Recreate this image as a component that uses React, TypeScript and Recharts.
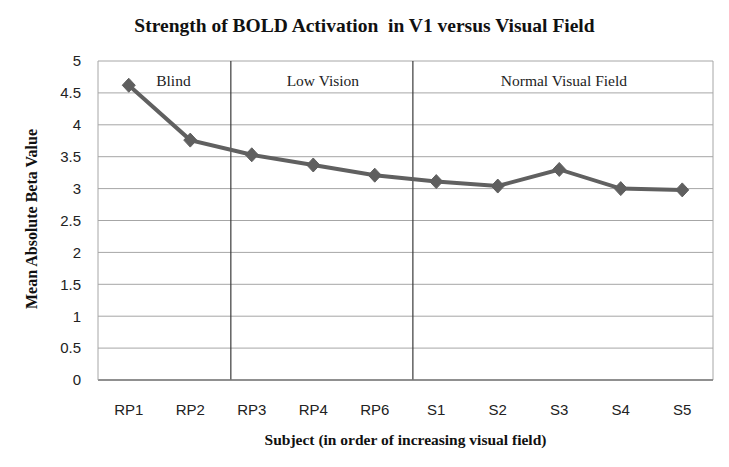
import React from 'react';
import {
  LineChart,
  Line,
  XAxis,
  YAxis,
  CartesianGrid,
  ReferenceLine,
  ReferenceArea,
} from 'recharts';

const title = 'Strength of BOLD Activation  in V1 versus Visual Field';
const yTitle = 'Mean Absolute Beta Value';
const xTitle = 'Subject (in order of increasing visual field)';

const categories = ['RP1', 'RP2', 'RP3', 'RP4', 'RP6', 'S1', 'S2', 'S3', 'S4', 'S5'];
const betaValues = [4.62, 3.76, 3.53, 3.37, 3.21, 3.11, 3.04, 3.3, 3.0, 2.98];
const yTicks = [0, 0.5, 1, 1.5, 2, 2.5, 3, 3.5, 4, 4.5, 5];

const groupNames = ['Blind', 'Low Vision', 'Normal Visual Field'];
const groupStarts = [0, 2.16, 5.12];
const groupEnds = [2.16, 5.12, 10];

const data = categories.map((c, i) => ({ x: i + 0.5, name: c, value: betaValues[i] }));
const xTicks = categories.map((_, i) => i + 0.5);

const Diamond = (props: any) => {
  const { cx, cy } = props;
  if (cx == null || cy == null) return null;
  const w = 6.5;
  const h = 7;
  return (
    <path
      d={`M${cx},${cy - h} L${cx + w},${cy} L${cx},${cy + h} L${cx - w},${cy} Z`}
      fill="#5f5f5f"
      stroke="#5f5f5f"
    />
  );
};

const serifBold: React.CSSProperties = {
  fontFamily: '"Liberation Serif", "DejaVu Serif", serif',
  fontWeight: 'bold',
  color: '#111',
  whiteSpace: 'pre',
  position: 'absolute',
  lineHeight: 1,
};

export default function App() {
  return (
    <div style={{ position: 'absolute', left: 0, top: 0, width: 729, height: 467, background: '#fff' }}>
      <LineChart
        width={729}
        height={467}
        data={data}
        margin={{ top: 61, right: 16, left: 0, bottom: 47 }}
      >
        <CartesianGrid vertical={false} stroke="#a6a6a6" strokeWidth={1} />
        <XAxis
          dataKey="x"
          type="number"
          domain={[0, 10]}
          ticks={xTicks}
          tickFormatter={(v: number) => categories[Math.round(v - 0.5)]}
          tickLine={false}
          tickSize={0}
          tickMargin={24}
          height={40}
          axisLine={{ stroke: '#7a7a7a', strokeWidth: 1.5 }}
          tick={{ fill: '#222', fontSize: 15, fontFamily: '"Liberation Sans", Arial, sans-serif' }}
          interval={0}
        />
        <YAxis
          domain={[0, 5]}
          ticks={yTicks}
          width={98}
          tickLine={false}
          tickSize={0}
          tickMargin={17}
          axisLine={{ stroke: '#a6a6a6', strokeWidth: 1 }}
          tick={{ fill: '#222', fontSize: 15, fontFamily: '"Liberation Sans", Arial, sans-serif' }}
          interval={0}
        />
        <ReferenceLine x={10} stroke="#a6a6a6" strokeWidth={1} />
        {groupStarts.slice(1).map((b, i) => (
          <ReferenceLine key={`b${i}`} x={b} stroke="#3a3a3a" strokeWidth={1.2} />
        ))}
        {groupNames.map((g, i) => (
          <ReferenceArea
            key={g}
            x1={groupStarts[i]}
            x2={groupEnds[i]}
            y1={0}
            y2={5}
            fill="none"
            fillOpacity={0}
            stroke="none"
            ifOverflow="visible"
            label={{
              value: g,
              position: 'insideTop',
              offset: 14,
              dx: i === 0 ? 9 : 1,
              fill: '#222',
              fontSize: 15.5,
              fontFamily: '"Liberation Serif", "DejaVu Serif", serif',
            }}
          />
        ))}
        <Line
          type="linear"
          dataKey="value"
          stroke="#606060"
          strokeWidth={4}
          dot={<Diamond />}
          activeDot={false}
          isAnimationActive={false}
        />
      </LineChart>
      <div style={{ ...serifBold, left: 0, width: 729, top: 16, textAlign: 'center', fontSize: 19.5, paddingLeft: 0 }}>
        {title}
      </div>
      <div
        style={{
          ...serifBold,
          fontSize: 16,
          left: 32,
          top: 219,
          transform: 'translate(-50%, -50%) rotate(-90deg)',
        }}
      >
        {yTitle}
      </div>
      <div style={{ ...serifBold, fontSize: 15.5, left: 98, width: 615, top: 432, textAlign: 'center' }}>
        {xTitle}
      </div>
    </div>
  );
}
